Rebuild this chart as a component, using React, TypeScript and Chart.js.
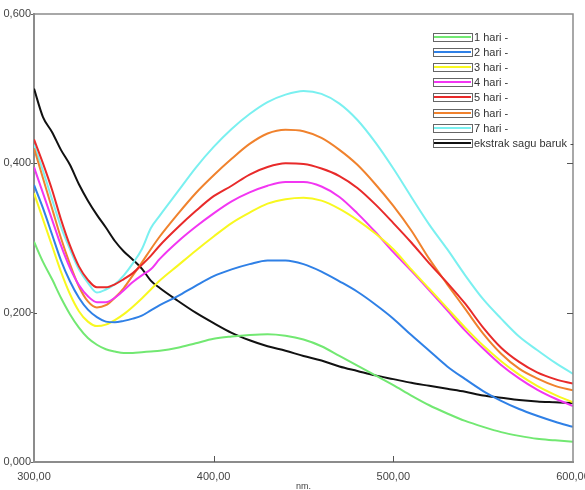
import React, { useEffect, useRef } from 'react';
import { Chart, registerables } from 'chart.js';

Chart.register(...registerables);

const WAVELENGTHS = [300, 305, 310, 315, 320, 325, 330, 335, 340, 345, 350, 355, 360, 365, 370, 380, 390, 400, 410, 420, 430, 440, 450, 460, 470, 480, 490, 500, 510, 520, 530, 540, 550, 560, 570, 580, 590, 600];

const SERIES_LABELS = ['1 hari -', '2 hari -', '3 hari -', '4 hari -', '5 hari -', '6 hari -', '7 hari -', 'ekstrak sagu baruk -'];
const SERIES_COLORS = ['#72e872', '#2f80e6', '#f8f820', '#f236f2', '#e82a2a', '#f0822d', '#7af0f0', '#111111'];

const HARI_1 = [0.295, 0.268, 0.245, 0.220, 0.198, 0.180, 0.166, 0.157, 0.151, 0.148, 0.146, 0.146, 0.147, 0.148, 0.149, 0.153, 0.159, 0.165, 0.168, 0.170, 0.171, 0.169, 0.164, 0.155, 0.142, 0.129, 0.116, 0.103, 0.089, 0.076, 0.065, 0.055, 0.047, 0.040, 0.035, 0.031, 0.029, 0.027];
const HARI_2 = [0.371, 0.340, 0.305, 0.270, 0.242, 0.220, 0.204, 0.194, 0.188, 0.187, 0.189, 0.192, 0.196, 0.203, 0.210, 0.222, 0.236, 0.249, 0.258, 0.265, 0.270, 0.270, 0.265, 0.255, 0.242, 0.228, 0.211, 0.192, 0.170, 0.149, 0.128, 0.111, 0.095, 0.082, 0.071, 0.062, 0.054, 0.047];
const HARI_3 = [0.360, 0.325, 0.290, 0.255, 0.225, 0.202, 0.188, 0.182, 0.184, 0.190, 0.198, 0.208, 0.219, 0.231, 0.243, 0.263, 0.283, 0.302, 0.320, 0.334, 0.346, 0.352, 0.354, 0.350, 0.339, 0.324, 0.306, 0.285, 0.258, 0.232, 0.206, 0.180, 0.156, 0.135, 0.117, 0.102, 0.090, 0.080];
const HARI_4 = [0.395, 0.360, 0.325, 0.290, 0.260, 0.237, 0.222, 0.214, 0.214, 0.220, 0.230, 0.241, 0.250, 0.258, 0.272, 0.295, 0.315, 0.333, 0.349, 0.361, 0.370, 0.375, 0.375, 0.369, 0.355, 0.333, 0.308, 0.281, 0.256, 0.230, 0.203, 0.176, 0.152, 0.130, 0.112, 0.097, 0.085, 0.075];
const HARI_5 = [0.432, 0.400, 0.365, 0.325, 0.290, 0.262, 0.244, 0.234, 0.234, 0.238, 0.245, 0.253, 0.264, 0.276, 0.290, 0.314, 0.336, 0.356, 0.370, 0.385, 0.395, 0.400, 0.399, 0.393, 0.383, 0.367, 0.345, 0.320, 0.294, 0.266, 0.240, 0.212, 0.180, 0.153, 0.134, 0.120, 0.111, 0.105];
const HARI_6 = [0.420, 0.380, 0.340, 0.300, 0.265, 0.235, 0.215, 0.207, 0.210, 0.220, 0.233, 0.250, 0.267, 0.285, 0.302, 0.332, 0.360, 0.384, 0.406, 0.426, 0.440, 0.445, 0.443, 0.434, 0.418, 0.398, 0.372, 0.343, 0.310, 0.272, 0.238, 0.205, 0.172, 0.145, 0.125, 0.112, 0.102, 0.096];
const HARI_7 = [0.425, 0.390, 0.352, 0.315, 0.285, 0.258, 0.240, 0.227, 0.231, 0.238, 0.250, 0.266, 0.285, 0.313, 0.330, 0.362, 0.394, 0.422, 0.446, 0.466, 0.482, 0.492, 0.497, 0.493, 0.480, 0.458, 0.428, 0.393, 0.355, 0.318, 0.285, 0.250, 0.218, 0.192, 0.168, 0.150, 0.133, 0.118];
const EKSTRAK = [0.500, 0.462, 0.442, 0.418, 0.398, 0.372, 0.350, 0.331, 0.314, 0.296, 0.282, 0.271, 0.259, 0.243, 0.233, 0.216, 0.200, 0.186, 0.173, 0.163, 0.155, 0.149, 0.142, 0.136, 0.128, 0.122, 0.116, 0.111, 0.106, 0.102, 0.098, 0.094, 0.089, 0.086, 0.083, 0.081, 0.080, 0.079];

const X_TICKS = [300, 400, 500, 600];
const Y_TICKS = [0, 0.2, 0.4, 0.6];
const X_TITLE = 'nm.';

const FONT = '"Liberation Sans", Arial, sans-serif';

const fmtX = (v: number) => v.toFixed(2).replace('.', ',');
const fmtY = (v: number) => v.toFixed(3).replace('.', ',');

const framePlugin = {
  id: 'frameAndLegend',
  afterDatasetsDraw(chart: any) {
    const { ctx, chartArea: a, scales } = chart;
    ctx.save();
    ctx.strokeStyle = '#8c8c8c';
    ctx.lineWidth = 1.5;
    ctx.beginPath();
    ctx.moveTo(a.left, a.top);
    ctx.lineTo(a.right, a.top);
    ctx.lineTo(a.right, a.bottom);
    ctx.stroke();
    ctx.strokeStyle = '#555';
    ctx.lineWidth = 1;
    ctx.beginPath();
    for (const v of X_TICKS.slice(1, -1)) {
      const x = Math.round(scales.x.getPixelForValue(v)) + 0.5;
      ctx.moveTo(x, a.bottom);
      ctx.lineTo(x, a.bottom - 6);
    }
    for (const v of Y_TICKS.slice(1, -1)) {
      const y = Math.round(scales.y.getPixelForValue(v)) + 0.5;
      ctx.moveTo(a.right, y);
      ctx.lineTo(a.right - 6, y);
      ctx.moveTo(a.left, y);
      ctx.lineTo(a.left + 3, y);
    }
    ctx.stroke();
    const datasets = chart.data.datasets;
    const bx = 433;
    const bw = 39;
    const bh = 8;
    const y0 = 37;
    const dy = 15.1;
    ctx.font = '11px ' + FONT;
    ctx.textBaseline = 'middle';
    ctx.textAlign = 'left';
    datasets.forEach((ds: any, i: number) => {
      const cy = Math.round(y0 + i * dy);
      ctx.fillStyle = '#fff';
      ctx.fillRect(bx, cy - bh / 2, bw, bh);
      ctx.strokeStyle = ds.borderColor;
      ctx.lineWidth = 2;
      ctx.beginPath();
      ctx.moveTo(bx + 1, cy);
      ctx.lineTo(bx + bw - 1, cy);
      ctx.stroke();
      ctx.strokeStyle = '#666';
      ctx.lineWidth = 1;
      ctx.strokeRect(bx + 0.5, cy - bh / 2 + 0.5, bw, bh);
      ctx.fillStyle = '#333';
      ctx.fillText(ds.label, bx + bw + 2, cy + 0.5);
    });
    ctx.restore();
  },
};

export default function App() {
  const ref = useRef<HTMLCanvasElement | null>(null);

  useEffect(() => {
    if (!ref.current) return;
    const series = [HARI_1, HARI_2, HARI_3, HARI_4, HARI_5, HARI_6, HARI_7, EKSTRAK];
    const chart = new Chart(ref.current, {
      type: 'line',
      data: {
        labels: WAVELENGTHS,
        datasets: series.map((vals, i) => ({
          label: SERIES_LABELS[i],
          data: vals.map((y, j) => ({ x: WAVELENGTHS[j], y })),
          borderColor: SERIES_COLORS[i],
          backgroundColor: SERIES_COLORS[i],
          borderWidth: 2,
          pointRadius: 0,
          cubicInterpolationMode: 'monotone' as const,
          fill: false,
        })),
      },
      options: {
        responsive: false,
        animation: false,
        devicePixelRatio: 1,
        layout: { padding: { left: 0, right: 12, top: 14, bottom: 0 } },
        plugins: {
          legend: { display: false },
          tooltip: { enabled: false },
        },
        scales: {
          x: {
            type: 'linear',
            min: 300,
            max: 600,
            afterBuildTicks: (s: any) => {
              s.ticks = X_TICKS.map((v) => ({ value: v }));
            },
            ticks: {
              callback: (v: any) => fmtX(Number(v)),
              font: { family: FONT, size: 11 },
              color: '#444',
              padding: 8,
              maxRotation: 0,
              autoSkip: false,
            },
            grid: { drawOnChartArea: false, drawTicks: false },
            border: { color: '#8c8c8c', width: 2 },
            title: {
              display: true,
              text: X_TITLE,
              font: { family: FONT, size: 9, lineHeight: 0.8 },
              color: '#444',
              padding: { top: 0, bottom: 0 },
            },
            afterFit: (s: any) => {
              s.height = 28;
              s.paddingLeft = 0;
              s.paddingRight = 0;
            },
          },
          y: {
            type: 'linear',
            min: 0,
            max: 0.6,
            afterBuildTicks: (s: any) => {
              s.ticks = Y_TICKS.map((v) => ({ value: v }));
            },
            ticks: {
              callback: (v: any) => fmtY(Number(v)),
              font: { family: FONT, size: 11 },
              color: '#444',
              padding: 0,
            },
            grid: { drawOnChartArea: false, drawTicks: true, tickLength: 3, color: '#666' },
            border: { color: '#8c8c8c', width: 2 },
            afterFit: (s: any) => {
              s.width = 34;
              s.paddingTop = 0;
              s.paddingBottom = 0;
            },
          },
        },
      },
      plugins: [framePlugin],
    } as any);
    return () => chart.destroy();
  }, []);

  return (
    <div style={{ position: 'absolute', left: 0, top: 0, width: 585, height: 490, background: '#fff' }}>
      <canvas ref={ref} width={585} height={490} style={{ display: 'block', width: 585, height: 490 }} />
    </div>
  );
}
